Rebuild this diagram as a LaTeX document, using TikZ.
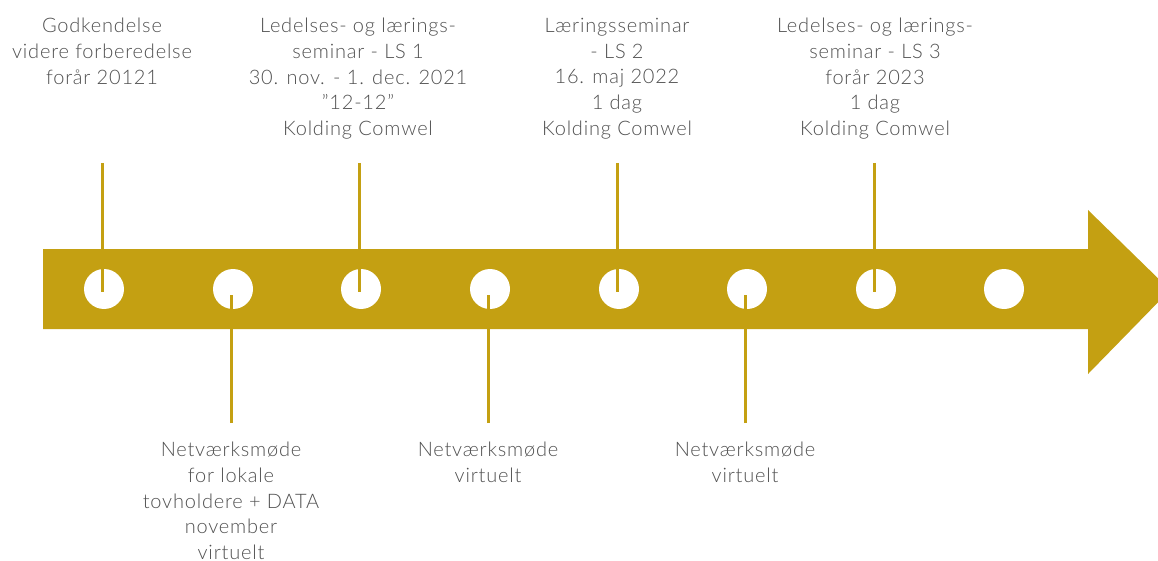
\documentclass[tikz,border=0pt]{standalone}
\usepackage{fontspec}
\setmainfont{Lato Light}[LetterSpace=4]
\definecolor{gold}{RGB}{196,160,18}
\definecolor{txt}{RGB}{80,80,80}
\begin{document}
\begin{tikzpicture}[x=1pt,y=-1pt,
  dot/.style={circle,fill=white,minimum size=40pt,inner sep=0pt},
  conn/.style={draw=gold,line width=3pt},
  lbl/.style={align=center,text=txt,inner sep=0pt,font=\fontsize{20}{25.7}\selectfont}]
\useasboundingbox (0,0) rectangle (1158,561);
\clip (0,0) rectangle (1158,561);
\fill[gold] (43,249) -- (1088,249) -- (1088,210) -- (1170,290) -- (1088,374) -- (1088,329) -- (43,329) -- cycle;
\foreach \i/\x in {1/104,2/233,3/361,4/490,5/619,6/747,7/876,8/1004}
  \node[dot] (c\i) at (\x,289) {};
% top connectors
\foreach \i in {1,3,5,7}{
  \coordinate (t\i) at ([xshift=-2pt]c\i.center |- 0,163);
  \coordinate (e\i) at ([xshift=-2pt,yshift=-3pt]c\i.center);
  \draw[conn] (t\i) -- (e\i);
}
\foreach \i in {2,4,6}{
  \coordinate (b\i) at ([xshift=-2pt]c\i.center |- 0,423);
  \coordinate (e\i) at ([xshift=-2pt,yshift=-6pt]c\i.center);
  \draw[conn] (b\i) -- (e\i);
}
\node[lbl,anchor=north] (l1) at (102,18) {Godkendelse\\videre forberedelse\\forår 20121};
\node[lbl,anchor=north] (l3) at (358,18) {Ledelses- og lærings-\\seminar - LS 1\\30. nov. - 1. dec. 2021\\”12-12”\\Kolding Comwel};
\node[lbl,anchor=north] (l5) at (617,18) {Læringsseminar\\- LS 2\\16. maj 2022\\1 dag\\Kolding Comwel};
\node[lbl,anchor=north] (l7) at (875,18) {Ledelses- og lærings-\\seminar - LS 3\\forår 2023\\1 dag\\Kolding Comwel};
\node[lbl,anchor=north] (l2) at (231,442) {Netværksmøde\\for lokale\\tovholdere + DATA\\november\\virtuelt};
\node[lbl,anchor=north] (l4) at (488,442) {Netværksmøde\\virtuelt};
\node[lbl,anchor=north] (l6) at (745,442) {Netværksmøde\\virtuelt};
\end{tikzpicture}
\end{document}
